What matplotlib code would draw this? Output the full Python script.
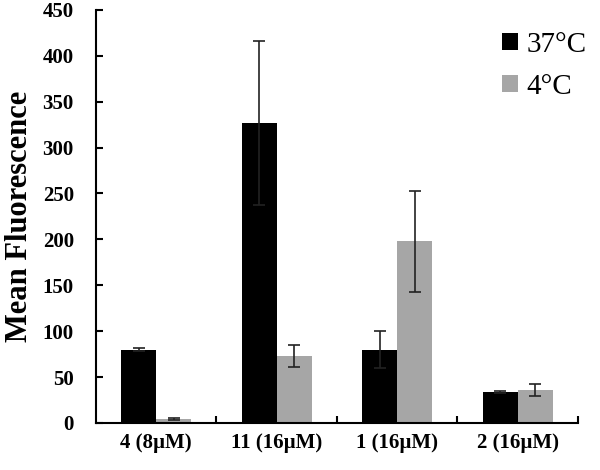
import numpy as np
import matplotlib.pyplot as plt

categories = ['4 (8\u00b5M)', '11 (16\u00b5M)', '1 (16\u00b5M)', '2 (16\u00b5M)']
warm = [80, 327, 80, 34]
warm_err = [1.5, 89, 20, 1]
cold = [4, 73, 198, 36]
cold_err = [1, 12.5, 55, 7]

plt.rcParams['font.family'] = ['Liberation Serif', 'DejaVu Serif']

fig = plt.figure(figsize=(6, 4.7), dpi=100)
ax = fig.add_axes([0.16, 0.1, 0.803, 0.879])

x = np.arange(len(categories))
w = 0.29
err_kw = dict(elinewidth=1.2, capsize=4, capthick=1.2, ecolor='#222222')
ax.bar(x - w / 2, warm, w, yerr=warm_err, color='black', label='37\u00b0C', error_kw=err_kw)
ax.bar(x + w / 2, cold, w, yerr=cold_err, color='#a6a6a6', label='4\u00b0C', error_kw=err_kw)

ax.set_xlim(-0.5, len(categories) - 0.5)
ax.set_ylim(0, 450)
ax.set_yticks(np.arange(0, 451, 50))
ax.set_xticks(x)
ax.set_xticklabels(categories, fontsize=15, fontweight='bold')
ax.set_xticks(np.arange(0.5, len(categories), 1), minor=True)
ax.tick_params(axis='x', which='major', length=0, pad=7)
ax.tick_params(axis='x', which='minor', direction='in', length=5, width=1.5)
ax.tick_params(axis='y', direction='in', length=5, width=1.5, labelsize=15, pad=16)
for lab in ax.get_yticklabels():
    lab.set_fontweight('bold')

for s in ['top', 'right']:
    ax.spines[s].set_visible(False)
for s in ['left', 'bottom']:
    ax.spines[s].set_linewidth(1.5)

ax.set_ylabel('Mean Fluorescence', fontsize=22, fontweight='bold', labelpad=6)

ax.legend(loc='upper right', bbox_to_anchor=(1.073, 1.01), frameon=False, fontsize=21,
          handlelength=0.55, handleheight=0.55, handletextpad=0.3, labelspacing=0.55)

fig.savefig('out.png', dpi=100)
